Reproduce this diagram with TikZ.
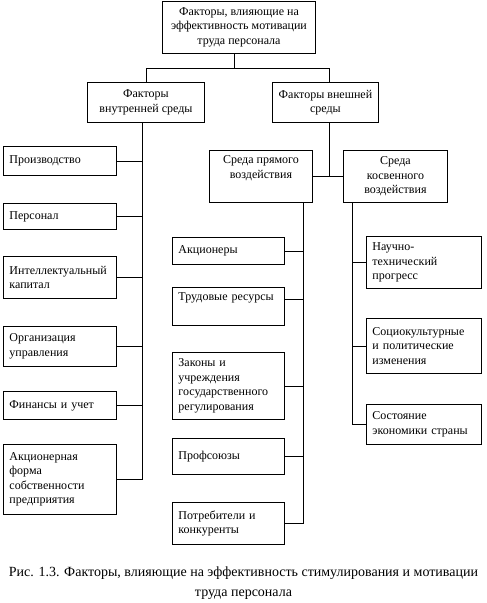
\documentclass[tikz,border=0pt]{standalone}
\usepackage{fontspec}
\setmainfont{Liberation Serif}

\begin{document}
\begin{tikzpicture}[x=1pt,y=-1pt,line width=0.9pt,
  box/.style={draw,anchor=north west,align=center,inner xsep=6pt,inner ysep=2pt,font=\fontsize{12}{14.5}\selectfont},
  leaf/.style={box,align=left},
  lcol/.style={leaf,text width=101pt},
  mcol/.style={leaf,text width=100pt},
  rcol/.style={leaf,text width=103pt}]
\path[use as bounding box] (0,0) rectangle (487,603);
\node[box,minimum width=153,minimum height=52] (top) at (162,0.5) {Факторы, влияющие на\\эффективность мотивации\\труда персонала};
\node[box,minimum width=117,minimum height=40] (inner) at (87,82) {Факторы\\внутренней среды};
\node[box,minimum width=106,minimum height=40] (outer) at (272,82) {Факторы внешней\\среды};
\node[box,minimum width=103,minimum height=52] (direct) at (209,150) {Среда прямого\\воздействия\\\strut};
\node[box,minimum width=104,minimum height=52] (indirect) at (343,150) {Среда\\косвенного\\воздействия};
\node[lcol,minimum height=29] (prod) at (3,146) {Производство};
\node[lcol,minimum height=26] (staff) at (3,203) {Персонал};
\node[lcol,minimum height=42] (intel) at (3,256) {Интеллектуальный\\капитал};
\node[lcol,minimum height=40] (org) at (3,326) {Организация\\управления};
\node[lcol,minimum height=28] (fin) at (3,391) {Финансы и учет};
\node[lcol,minimum height=70] (jsc) at (3,444) {Акционерная\\форма\\собственности\\предприятия};
\node[mcol,minimum height=27] (holders) at (172,237) {Акционеры};
\node[mcol,minimum height=38] (labour) at (172,287) {Трудовые ресурсы\\\strut};
\node[mcol,minimum height=67] (laws) at (172,352) {Законы и\\учреждения\\государственного\\регулирования};
\node[mcol,minimum height=36] (unions) at (172,438) {Профсоюзы};
\node[mcol,minimum height=42] (clients) at (172,502) {Потребители и\\конкуренты};
\node[rcol,minimum height=52] (tech) at (366,236) {Научно-\\технический\\прогресс};
\node[rcol,minimum height=55] (social) at (366,318) {Социокультурные\\и политические\\изменения};
\node[rcol,minimum height=40] (economy) at (366,404) {Состояние\\экономики страны};
\node[align=center,font=\fontsize{14}{20}\selectfont] (caption) at (243.5,583) {Рис. 1.3. Факторы, влияющие на эффективность стимулирования и мотивации\\труда персонала};

\coordinate (t) at ([xshift=-4.5pt]top.south);
\coordinate (o) at ([xshift=4pt]outer.south);
\draw (t) -- ++(0,15) coordinate (fork) -| (inner.north);
\draw (fork) -| ([xshift=4pt]outer.north);
\draw (o) -- (o |- direct.east);
\draw (direct.east) -- (indirect.west);

\coordinate (lbus) at ([xshift=-3.5pt]inner.south);
\draw (lbus) |- (jsc.east);
\foreach \n in {prod,staff,intel,org,fin}
  \draw (\n.east) -- (\n.east -| lbus);

\coordinate (mbus) at ([xshift=-9pt]direct.south east);
\draw (mbus) |- (clients.east);
\draw ([yshift=7pt]labour.east) -- ([yshift=7pt]labour.east -| mbus);
\foreach \n in {holders,laws,unions}
  \draw (\n.east) -- (\n.east -| mbus);

\coordinate (rbus) at ([xshift=9pt]indirect.south west);
\draw (rbus) |- (economy.west);
\foreach \n in {tech,social}
  \draw (\n.west) -- (\n.west -| rbus);
\end{tikzpicture}
\end{document}
